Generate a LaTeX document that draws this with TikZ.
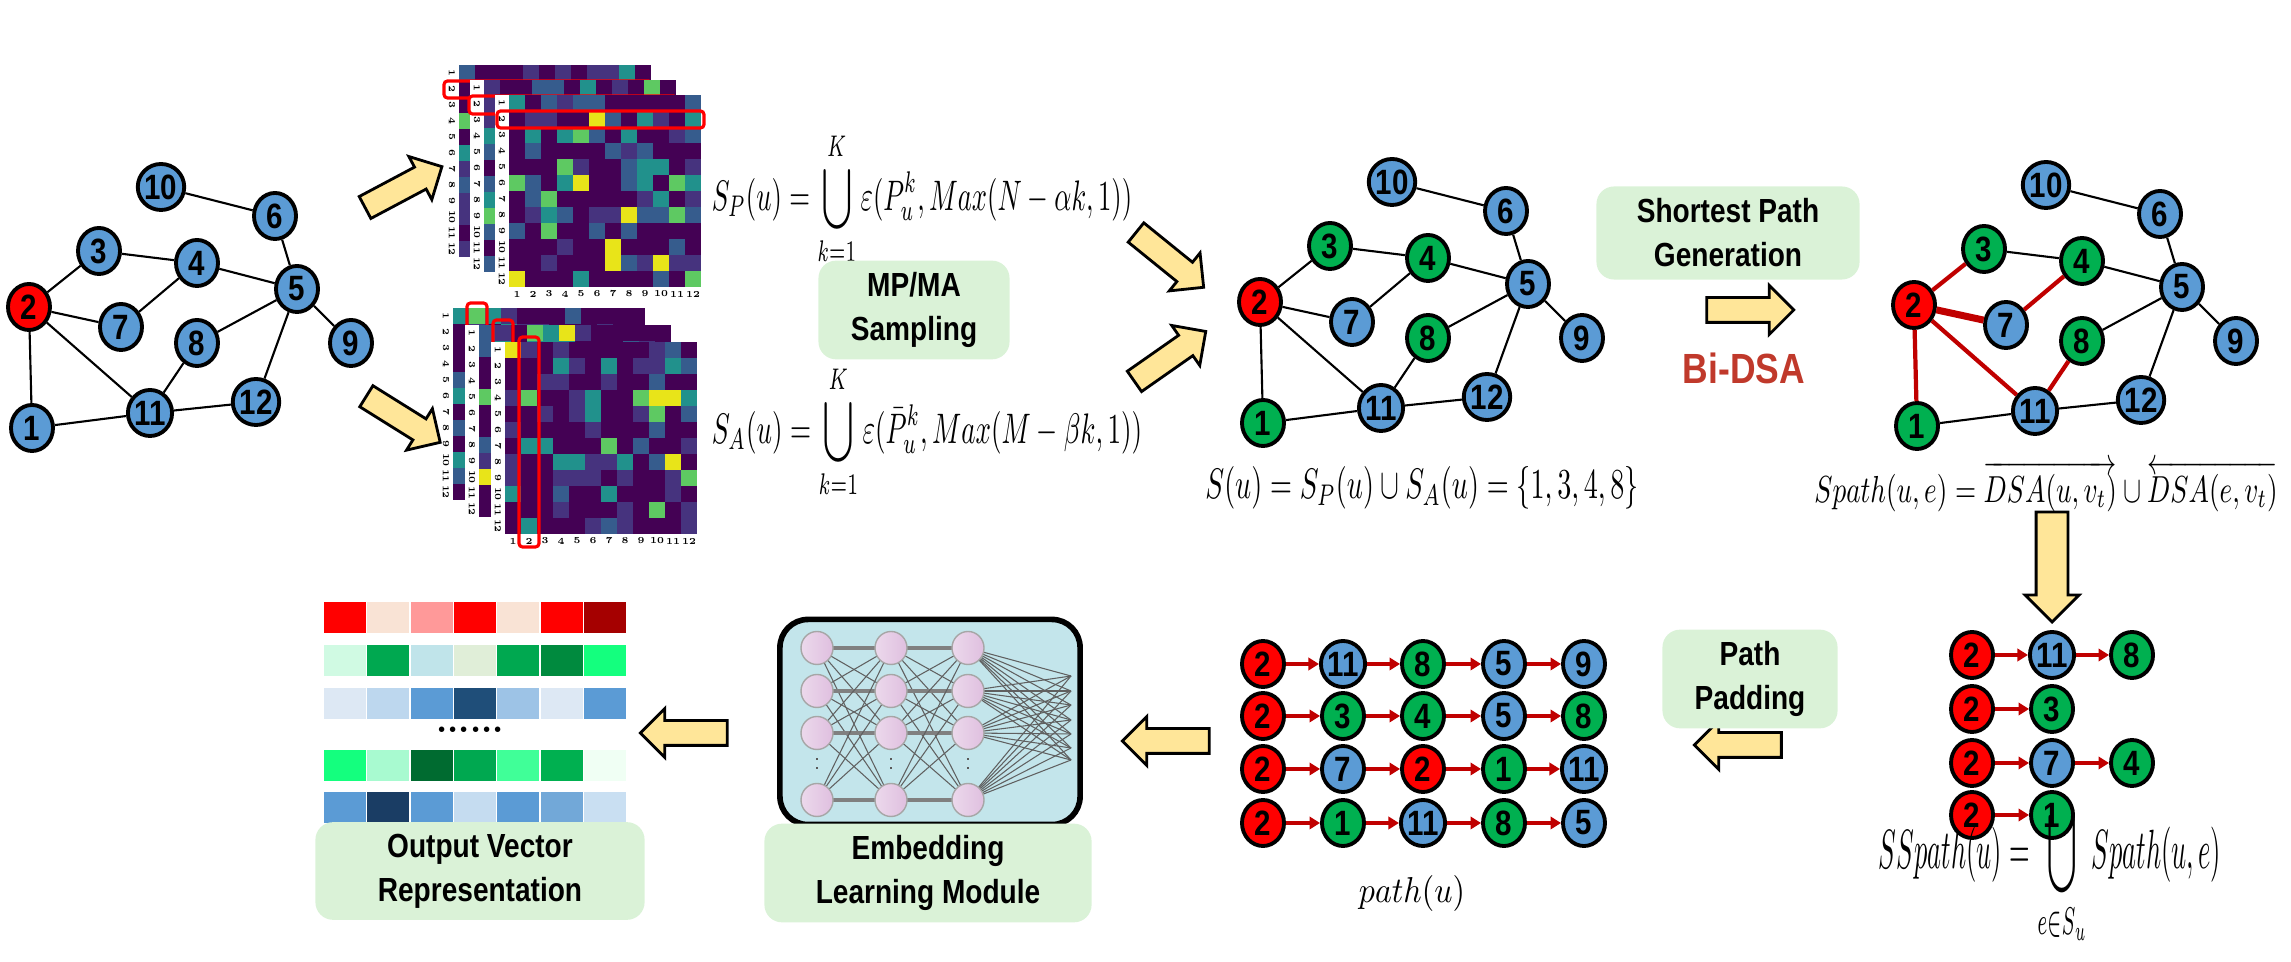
\documentclass[tikz,border=0pt]{standalone}
\usepackage{fontspec}
\usepackage{amsmath,graphicx}
\newfontfamily\nar{Liberation Sans}[FakeStretch=0.84]
\usetikzlibrary{shapes.geometric,shapes.arrows,arrows.meta}
\definecolor{nblue}{HTML}{5B9BD5}\definecolor{ngreen}{HTML}{00B050}\definecolor{nred}{HTML}{FF0000}
\definecolor{dred}{HTML}{C00000}\definecolor{ylw}{HTML}{FFE699}\definecolor{boxg}{HTML}{DAF2D7}
\definecolor{vA}{HTML}{440154}\definecolor{vB}{HTML}{46337E}\definecolor{vC}{HTML}{365C8D}
\definecolor{vD}{HTML}{21918C}\definecolor{vG}{HTML}{5EC962}\definecolor{vY}{HTML}{E8E419}
\definecolor{nnbg}{HTML}{C3E5EB}\definecolor{bidsa}{HTML}{C0392B}
\tikzset{
 nd/.style={ellipse,draw=black,line width=1.1pt,minimum width=0.42cm,minimum height=0.46cm,inner sep=0pt,font=\fontsize{10}{10}\selectfont\nar\bfseries},
 bn/.style={nd,fill=nblue}, gn/.style={nd,fill=ngreen}, rn/.style={nd,fill=nred},
 ed/.style={line width=0.6pt}, red/.style={line width=1.2pt,draw=dred},
 pa/.style={-{Triangle[length=3pt,width=3.5pt]},line width=1.3pt,dred},
 gbox/.style={fill=boxg,rounded corners=5pt,align=center,font=\fontsize{9.5}{12.5}\selectfont\nar\bfseries},
 yarr/.style={single arrow,draw=black,line width=0.8pt,fill=ylw,inner xsep=0pt,inner ysep=0.11cm,single arrow head extend=0.12cm,minimum height=0.87cm},
 tick/.style={font=\fontsize{2.6}{3}\selectfont\bfseries,inner sep=0pt},
 neu/.style={ellipse,draw=gray!70,left color=white!85!violet,right color=violet!25,minimum width=0.32cm,minimum height=0.33cm,inner sep=0pt},
}
\newcommand\hlayer[2]{%
 \fill[white] ({#1-14},#2) rectangle ({#1+192},{#2+206});
 \foreach \i in {0,...,11}{\foreach \j in {0,...,11}{%
   \pgfmathrandominteger{\r}{1}{40}%
   \ifnum\r<22 \def\cc{vA}\else\ifnum\r<30 \def\cc{vB}\else\ifnum\r<35 \def\cc{vC}\else\ifnum\r<38 \def\cc{vD}\else\ifnum\r<40 \def\cc{vG}\else\def\cc{vY}\fi\fi\fi\fi\fi
   \fill[\cc] ({#1+16*\j},{#2+16*\i}) rectangle +(16,16);
 }}
 \foreach \k in {1,...,12}{\node[tick,rotate=-90] at ({#1-7},{#2+16*\k-8}) {\k};}
}
\newcommand\bticks[2]{\foreach \k in {1,...,12}{\node[tick] at ({#1+16*\k-8},{#2+199}) {\k};}}
\newcommand\gnet[3]{% prefix, style of 1/3/4/8, edge style extra
 \node[bn] (#1n10) at (161,187) {10};
 \node[bn] (#1n6) at (275,216) {6};
 \node[#2] (#1n3) at (99,251) {3};
 \node[#2] (#1n4) at (197,263) {4};
 \node[bn] (#1n5) at (297,289) {5};
 \node[rn] (#1n2) at (29,307) {2};
 \node[bn] (#1n7) at (121,327) {7};
 \node[#2] (#1n8) at (197,343) {8};
 \node[bn] (#1n9) at (351,343) {9};
 \node[#2] (#1n1) at (32,428) {1};
 \node[bn] (#1n11) at (150,413) {11};
 \node[bn] (#1n12) at (256,402) {12};
 \draw[ed] (#1n10)--(#1n6) (#1n6)--(#1n5) (#1n3)--(#1n4) (#1n4)--(#1n5) (#1n5)--(#1n8) (#1n5)--(#1n9) (#1n5)--(#1n12) (#1n11)--(#1n12) (#1n1)--(#1n11);
 \draw[#3] (#1n2)--(#1n3) (#1n2)--(#1n7) (#1n7)--(#1n4) (#1n2)--(#1n1) (#1n2)--(#1n11) (#1n11)--(#1n8);
}
\begin{document}
\begin{tikzpicture}[x=0.01cm,y=-0.01cm]
\useasboundingbox (0,0) rectangle (2291,962);
\pgfmathsetseed{11}
% graphs
\gnet{A}{bn}{ed}
\begin{scope}[shift={(1231,-5)}]\gnet{B}{gn}{ed}\end{scope}
\begin{scope}[shift={(1885,-2)}]\gnet{C}{gn}{red}\end{scope}
\draw[red,line width=2pt] (Cn2)--(Cn7);
% heatmaps top
\hlayer{459}{65}
\draw[nred,line width=0.9pt,rounded corners=1pt] (444,81) rectangle (652,98);
\hlayer{484}{80}
\draw[nred,line width=0.9pt,rounded corners=1pt] (469,96) rectangle (677,114);
\hlayer{509}{95}\bticks{509}{95}
\draw[nred,line width=0.9pt,rounded corners=1pt] (497,111) rectangle (704,128);
% heatmaps bottom
\hlayer{453}{308}
\draw[nred,line width=0.9pt,rounded corners=1pt] (467,303) rectangle (487,520);
\hlayer{479}{325}
\draw[nred,line width=0.9pt,rounded corners=1pt] (493,320) rectangle (513,530);
\hlayer{505}{342}\bticks{505}{342}
\draw[nred,line width=0.9pt,rounded corners=1pt] (519,337) rectangle (539,547);
% formulas
\node (fSP) at (922,199) {\resizebox{4.2cm}{0.78cm}{$S_P(u)=\displaystyle\bigcup\limits_{k=1}^{K}\varepsilon(P_u^k,Max(N-\alpha k,1))$}};
\node (fSA) at (927,432) {\resizebox{4.3cm}{0.78cm}{$S_A(u)=\displaystyle\bigcup\limits_{k=1}^{K}\varepsilon(\bar{P}_u^k,Max(M-\beta k,1))$}};
\node[gbox,minimum width=1.91cm,minimum height=0.94cm] (mp) at (914,310) {MP/MA\\Sampling};
\node (fS) at (1422,488) {\resizebox{4.33cm}{0.32cm}{$S(u)=S_P(u)\cup S_A(u)=\{1,3,4,8\}$}};
\node[gbox,minimum width=2.63cm,minimum height=0.93cm] (sp) at (1728,233) {Shortest Path\\Generation};
\node[text=bidsa,font=\fontsize{12}{14}\selectfont\nar\bfseries] (bd) at (1744,368) {Bi-DSA};
\node (fSp) at (2046,486) {\resizebox{4.63cm}{0.42cm}{$Spath(u,e)=\overrightarrow{DSA(u,v_t)}\cup\overleftarrow{DSA(e,v_t)}$}};
% arrows
\node[yarr,rotate=28] (a1) at (398,190) {};
\node[yarr,rotate=-32] (a2) at (398,416) {};
\node[yarr,rotate=-39] (a3) at (1165,256) {};
\node[yarr,rotate=35] (a4) at (1165,360) {};
\node[yarr] (a5) at (1744,310) {};
\node[yarr,rotate=-90,minimum height=1.1cm,inner ysep=0.145cm,single arrow head extend=0.11cm] (a6) at (2052,559) {};
\node[yarr,rotate=180] (a7) at (1744,745) {};
\node[yarr,rotate=180] (a8) at (1172,741) {};
\node[yarr,rotate=180] (a9) at (690,733) {};
% SSpath
\node[rn] (s1a) at (1972,655) {2}; \node[bn] (s1b) at (2052,655) {11}; \node[gn] (s1c) at (2132,655) {8};
\node[rn] (s2a) at (1972,709) {2}; \node[gn] (s2b) at (2052,709) {3};
\node[rn] (s3a) at (1972,763) {2}; \node[bn] (s3b) at (2052,763) {7}; \node[gn] (s3c) at (2132,763) {4};
\node[rn] (s4a) at (1972,815) {2}; \node[gn] (s4b) at (2052,815) {1};
\draw[pa] (s1a)--(s1b); \draw[pa] (s1b)--(s1c); \draw[pa] (s2a)--(s2b);
\draw[pa] (s3a)--(s3b); \draw[pa] (s3b)--(s3c); \draw[pa] (s4a)--(s4b);
\node (fSS) at (2050,878) {\resizebox{3.42cm}{0.58cm}{$SSpath(u)=\displaystyle\bigcup\limits_{e\in S_u}Spath(u,e)$}};
\node[gbox,minimum width=1.75cm,minimum height=0.74cm] (pp) at (1750,679) {Path\\Padding};
% path rows
\foreach \r/\y/\a/\sa/\b/\sb/\c/\sc/\d/\sd in {1/664/11/bn/8/gn/5/bn/9/bn, 2/716/3/gn/4/gn/5/bn/8/gn, 3/769/7/bn/2/rn/1/gn/11/bn, 4/823/1/gn/11/bn/8/gn/5/bn}{
 \node[rn] (p\r a) at (1263,\y) {2};
 \node[\sa] (p\r b) at (1343,\y) {\a};
 \node[\sb] (p\r c) at (1423,\y) {\b};
 \node[\sc] (p\r d) at (1504,\y) {\c};
 \node[\sd] (p\r e) at (1584,\y) {\d};
 \draw[pa] (p\r a)--(p\r b); \draw[pa] (p\r b)--(p\r c); \draw[pa] (p\r c)--(p\r d); \draw[pa] (p\r d)--(p\r e);
}
\node (fpath) at (1412,893) {\resizebox{1.06cm}{0.27cm}{$path(u)$}};
% NN
\node[draw=black,line width=1.6pt,fill=nnbg,rounded corners=8pt,minimum width=3.0cm,minimum height=2.05cm] (nn) at (930,722) {};
\foreach \c/\x in {1/817,2/891,3/968}{\foreach \rr/\y in {1/648,2/691,3/733,4/800}{\coordinate (q\c\rr) at (\x,\y);}}
\foreach \k/\y in {1/676,2/691,3/705,4/720,5/734,6/748,7/760}{\coordinate (o\k) at (1071,\y);}
\foreach \i in {1,...,4}{\foreach \j in {1,...,4}{\draw[gray!75!black,line width=0.3pt] (q1\i)--(q2\j) (q2\i)--(q3\j);}
 \foreach \k in {1,...,7}{\draw[gray!75!black,line width=0.3pt] (q3\i)--(o\k);}
 \draw[gray,line width=1pt] (q1\i)--(q2\i)--(q3\i);}
\foreach \c in {1,2,3}{\foreach \rr in {1,...,4}{\node[neu] (m\c\rr) at (q\c\rr) {};}
 \draw[gray!70!black,dotted,line width=0.6pt] ([yshift=-0.25cm]q\c3)--([yshift=0.25cm]q\c4);}
\node[gbox,minimum width=3.27cm,minimum height=0.74cm] (em) at (928,873) {Embedding\\Learning Module};
% output vectors
\foreach \rw/\y/\la/\lb/\lc/\ld/\le/\lf/\lg in {
 1/602/FF0000/F9E3D5/FF9999/FF0000/F9E3D5/FF0000/A50000,
 2/645/D0FAE3/00A850/C0E4EA/E0EED8/00A850/008A3E/14FF7E,
 3/688/DDE8F4/BDD7EE/5B9BD5/1F4E79/9DC3E6/DDE8F4/5B9BD5,
 4/750/14FF7E/A8FAD0/006B30/00A850/40FF98/00B050/F0FFF4,
 5/792/5B9BD5/1A3D64/5B9BD5/C5DCF0/5B9BD5/72A8D8/C9DFF2}{
 \foreach \k/\h in {0/\la,1/\lb,2/\lc,3/\ld,4/\le,5/\lf,6/\lg}{
  \definecolor{tmpc}{HTML}{\h}
  \fill[tmpc] ({324+43.3*\k},\y) rectangle +(42,31);}}
\node[font=\bfseries] (dots) at (470,730) {......};
\node[gbox,minimum width=3.29cm,minimum height=0.73cm] (ov) at (480,871) {Output Vector\\Representation};
\end{tikzpicture}
\end{document}
